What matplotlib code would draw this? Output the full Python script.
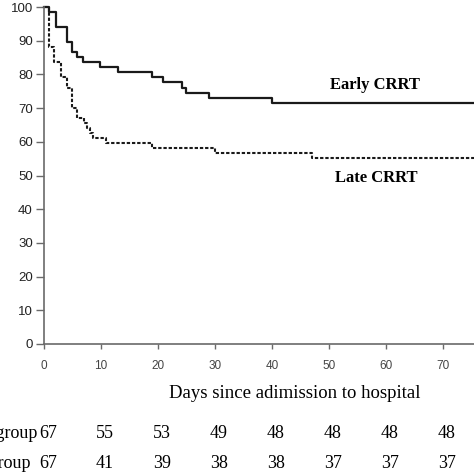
import matplotlib.pyplot as plt
from matplotlib.transforms import blended_transform_factory

# Kaplan-Meier steps (days, survival %)
early_days = [0, 0.9, 2.1, 4.0, 4.9, 5.8, 6.8, 9.9, 13.0, 19.0, 20.9, 24.2, 25.0, 29.0, 40.1, 75.5]
early_surv = [100, 98.5, 94.0, 89.6, 86.6, 85.1, 83.6, 82.1, 80.6, 79.1, 77.6, 76.1, 74.6, 73.1, 71.6, 71.6]

late_days = [0, 0.9, 1.75, 3.0, 4.0, 5.0, 5.8, 7.0, 7.6, 8.0, 8.6, 10.9, 18.9, 30.0, 47.0, 75.5]
late_surv = [100, 88.1, 83.6, 79.1, 76.1, 70.1, 67.2, 65.7, 64.2, 62.7, 61.2, 59.7, 58.2, 56.7, 55.2, 55.2]

risk_days = [0, 10, 20, 30, 40, 50, 60, 70]
early_risk = [67, 55, 53, 49, 48, 48, 48, 48]
late_risk = [67, 41, 39, 38, 38, 37, 37, 37]

serif = 'Liberation Serif'
sans = 'Liberation Sans'
axcol = '#6a6a6a'

fig = plt.figure(figsize=(4.74, 4.74), dpi=100)
ax = fig.add_axes([44 / 474, 1 - 344 / 474, 1 - 44 / 474, 337 / 474])

ax.step(early_days, early_surv, where='post', color='#1a1a1a', lw=1.6, clip_on=False)
ax.step(late_days, late_surv, where='post', color='#1a1a1a', lw=1.5,
        linestyle=(0, (1.6, 0.9)), clip_on=False)

ax.set_xlim(0, 75.5)
ax.set_ylim(0, 100)
ax.set_xticks(risk_days)
ax.set_yticks(range(0, 101, 10))

for s in ['top', 'right']:
    ax.spines[s].set_visible(False)
for s in ['left', 'bottom']:
    ax.spines[s].set_color(axcol)
    ax.spines[s].set_linewidth(1.2)

ax.tick_params(axis='y', direction='out', length=6, width=1, color=axcol, pad=2,
               labelsize=9.5, labelcolor='#222222')
ax.tick_params(axis='x', direction='out', length=3.5, width=1, color=axcol, pad=8,
               labelsize=8.5, labelcolor='#444444')
for lab in ax.get_xticklabels() + ax.get_yticklabels():
    lab.set_family(sans)

ax.text(58.1, 76.9, 'Early CRRT', fontsize=12, fontweight='bold', family=serif,
        ha='center', va='center')
ax.text(58.4, 49.3, 'Late CRRT', fontsize=12, fontweight='bold', family=serif,
        ha='center', va='center')

fig.text(295 / 474, 1 - 393 / 474, 'Days since adimission to hospital', fontsize=13.5,
         family=serif, ha='center', va='center')

# numbers at risk
tr = blended_transform_factory(ax.transData, fig.transFigure)
for vals, ypos, name in [(early_risk, 1 - 433 / 474, 'Early group'),
                         (late_risk, 1 - 463 / 474, 'Late group')]:
    fig.text(-48 / 474, ypos, name, fontsize=13, family=serif, ha='left', va='center')
    for d, v in zip(risk_days, vals):
        ax.text(d + 0.7, ypos, str(v), transform=tr, fontsize=13, family=serif,
                ha='center', va='center', clip_on=False)

fig.savefig('out.png', dpi=100)
